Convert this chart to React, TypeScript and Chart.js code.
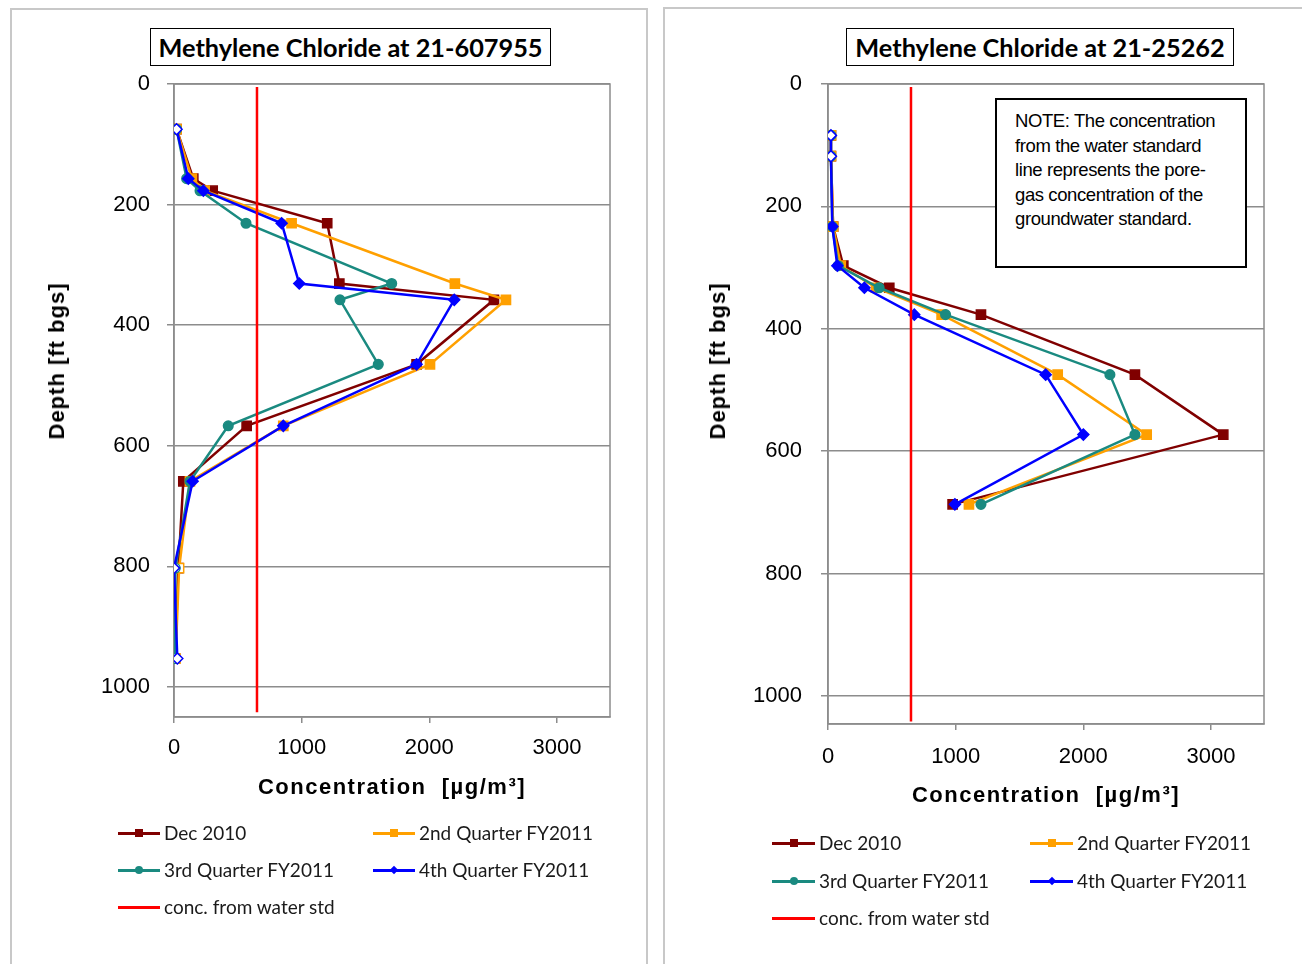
import React, { useEffect, useRef } from "react";
import { Chart, registerables } from "chart.js";
Chart.register(...registerables);

// ---------- DATA ----------
// Left panel: Methylene Chloride at 21-607955
const leftDepths = [75, 157, 177, 231, 331, 358, 465, 567, 659, 803, 953];
const leftDec2010 = [20, 151, 303, 1200, 1295, 2506, 1900, 569, 73, 34, 8];
const leftQ2FY2011 = [20, 140, 240, 921, 2200, 2600, 2005, 856, 125, 40, 12];
const leftQ3FY2011 = [20, 99, 204, 564, 1705, 1300, 1600, 425, 125, 10, 10];
const leftQ4FY2011 = [20, 112, 230, 843, 981, 2195, 1900, 856, 146, 0, 26];
const leftNonDetect = [0, 9, 10];

// Right panel: Methylene Chloride at 21-25262
const rightDepths = [84, 118, 233, 297, 333, 377, 475, 573, 687];
const rightDec2010 = [23, 23, 40, 120, 480, 1198, 2404, 3096, 976];
const rightQ2FY2011 = [23, 23, 40, 100, 376, 890, 1799, 2496, 1104];
const rightQ3FY2011 = [23, 23, 34, 80, 400, 921, 2208, 2404, 1198];
const rightQ4FY2011 = [23, 23, 34, 73, 285, 676, 1705, 2000, 994];
const rightNonDetect = [0, 1];

// conc. from water std
const waterStdConc = 650;
const waterStdDepths = [5, 1042];

const xTickValues = [0, 1000, 2000, 3000];
const yTickValues = [0, 200, 400, 600, 800, 1000];
const seriesLabels = [
  "Dec 2010",
  "2nd Quarter FY2011",
  "3rd Quarter FY2011",
  "4th Quarter FY2011",
  "conc. from water std",
];

const leftTitle = "Methylene Chloride at 21-607955";
const rightTitle = "Methylene Chloride at 21-25262";
const noteLines = [
  "NOTE: The concentration",
  "from the water standard",
  "line represents the pore-",
  "gas concentration of the",
  "groundwater standard.",
];

// ---------- STYLE ----------
const COLORS = ["#800000", "#FFA000", "#1A8A80", "#0000FF", "#FF0000"];
const STYLES = ["rect", "rect", "circle", "rectRot", false];
const RADII = [6.5, 6.5, 4.8, 5.5, 0];
const ORDERS = [4, 3, 2, 1, 0];

const framePlugin = {
  id: "frame",
  beforeDatasetsDraw(chart: any) {
    const { ctx, chartArea } = chart;
    const { left, top, right, bottom } = chartArea;
    ctx.save();
    ctx.strokeStyle = "#8c8c8c";
    ctx.lineWidth = 1.5;
    ctx.strokeRect(left, top, right - left, bottom - top);
    ctx.restore();
  },
};

type ChartProps = {
  left: number;
  width: number;
  height: number;
  depths: number[];
  series: number[][];
  nonDetect: number[];
  xMax: number;
  yMax: number;
  padRight: number;
  padTop: number;
  yAxisWidth: number;
  xAxisHeight: number;
  yLabelPad: number;
  xLabelPad: number;
};

function ProfileChart(p: ChartProps) {
  const ref = useRef<HTMLCanvasElement | null>(null);
  useEffect(() => {
    if (!ref.current) return;
    const datasets: any[] = p.series.map((vals, si) => ({
      label: seriesLabels[si],
      data: vals.map((v, i) => ({ x: v, y: p.depths[i] })),
      borderColor: COLORS[si],
      backgroundColor: COLORS[si],
      pointBackgroundColor: vals.map((_, i) =>
        p.nonDetect.includes(i) ? "#ffffff" : COLORS[si]
      ),
      pointBorderColor: COLORS[si],
      pointBorderWidth: 1.5,
      pointStyle: STYLES[si],
      pointRadius: RADII[si],
      borderWidth: 2.5,
      showLine: true,
      tension: 0,
      order: ORDERS[si],
    }));
    datasets.push({
      label: seriesLabels[4],
      data: waterStdDepths.map((d) => ({ x: waterStdConc, y: d })),
      borderColor: COLORS[4],
      backgroundColor: COLORS[4],
      pointRadius: 0,
      borderWidth: 2.5,
      showLine: true,
      order: ORDERS[4],
    });
    const chart = new Chart(ref.current, {
      type: "scatter",
      data: { datasets },
      plugins: [framePlugin],
      options: {
        animation: false,
        responsive: false,
        devicePixelRatio: 1,
        layout: { padding: { left: 0, right: p.padRight, top: p.padTop, bottom: 0 } },
        plugins: {
          legend: { display: false },
          tooltip: { enabled: false },
          title: { display: false },
        },
        scales: {
          x: {
            type: "linear",
            position: "bottom",
            min: 0,
            max: p.xMax,
            afterBuildTicks: (axis: any) => {
              axis.ticks = xTickValues.map((v) => ({ value: v }));
            },
            afterFit: (axis: any) => {
              axis.height = p.xAxisHeight;
            },
            ticks: {
              color: "#000",
              padding: p.xLabelPad,
              maxRotation: 0,
              callback: (v: any) => String(v),
              font: { family: "'Liberation Sans', Arial, sans-serif", size: 22 },
            },
            grid: {
              drawOnChartArea: false,
              drawTicks: true,
              tickLength: 6,
              color: "#8c8c8c",
              lineWidth: 1.5,
            },
            border: { color: "#8c8c8c", width: 1.5 },
          },
          y: {
            type: "linear",
            reverse: true,
            min: 0,
            max: p.yMax,
            afterBuildTicks: (axis: any) => {
              axis.ticks = yTickValues.map((v) => ({ value: v }));
            },
            afterFit: (axis: any) => {
              axis.width = p.yAxisWidth;
            },
            ticks: {
              color: "#000",
              padding: p.yLabelPad,
              callback: (v: any) => String(v),
              font: { family: "'Liberation Sans', Arial, sans-serif", size: 22 },
            },
            grid: {
              color: "#8c8c8c",
              lineWidth: 1.5,
              tickLength: 7,
            },
            border: { color: "#8c8c8c", width: 1.5 },
          },
        },
      } as any,
    });
    return () => chart.destroy();
  }, []);
  return (
    <canvas
      ref={ref}
      width={p.width}
      height={p.height}
      style={{
        position: "absolute",
        left: p.left,
        top: 0,
        width: p.width,
        height: p.height,
        zIndex: 1,
      }}
    />
  );
}

function Marker({ kind, color }: { kind: string; color: string }) {
  const base: React.CSSProperties = {
    position: "absolute",
    left: "50%",
    top: "50%",
    background: color,
  };
  if (kind === "square")
    return <div style={{ ...base, width: 8, height: 8, transform: "translate(-50%,-50%)" }} />;
  if (kind === "circle")
    return (
      <div
        style={{ ...base, width: 8, height: 8, borderRadius: "50%", transform: "translate(-50%,-50%)" }}
      />
    );
  if (kind === "diamond")
    return (
      <div
        style={{ ...base, width: 6, height: 6, transform: "translate(-50%,-50%) rotate(45deg)" }}
      />
    );
  return null;
}

const MARKERS = ["square", "square", "circle", "diamond", "none"];

function Legend({ cols, rows, lineW }: { cols: number[]; rows: number[]; lineW: number }) {
  const items = seriesLabels.map((lab, i) => ({
    lab,
    i,
    x: cols[i % 2],
    y: rows[Math.floor(i / 2)],
  }));
  return (
    <>
      {items.map((it) => (
        <div key={it.i} style={{ position: "absolute", left: it.x, top: it.y, zIndex: 2 }}>
          <div
            style={{
              position: "absolute",
              left: 0,
              top: -1.5,
              width: lineW,
              height: 3,
              background: COLORS[it.i],
            }}
          >
            <Marker kind={MARKERS[it.i]} color={COLORS[it.i]} />
          </div>
          <div
            style={{
              position: "absolute",
              left: lineW + 4,
              top: -12,
              whiteSpace: "nowrap",
              fontFamily: "Lato, 'Open Sans', sans-serif",
              fontSize: 19,
              lineHeight: "24px",
              color: "#1a1a1a",
            }}
          >
            {it.lab}
          </div>
        </div>
      ))}
    </>
  );
}

function TitleBox({ x, y, w, h, text }: { x: number; y: number; w: number; h: number; text: string }) {
  return (
    <div
      style={{
        position: "absolute",
        left: x,
        top: y,
        width: w,
        height: h,
        boxSizing: "border-box",
        border: "1.5px solid #000",
        background: "#fff",
        display: "flex",
        alignItems: "center",
        justifyContent: "center",
        fontFamily: "Lato, 'Open Sans', sans-serif",
        fontWeight: 700,
        fontSize: 25.3,
        color: "#000",
        whiteSpace: "nowrap",
        zIndex: 2,
      }}
    >
      {text}
    </div>
  );
}

const axisTitleStyle: React.CSSProperties = {
  position: "absolute",
  fontFamily: "'Liberation Sans', Arial, sans-serif",
  fontWeight: 700,
  fontSize: 22,
  color: "#000",
  whiteSpace: "pre",
  zIndex: 2,
};

function XTitle({ cx, cy }: { cx: number; cy: number }) {
  return (
    <div
      style={{
        ...axisTitleStyle,
        left: cx,
        top: cy,
        letterSpacing: 1.5,
        transform: "translate(-50%,-50%)",
      }}
    >
      {"Concentration  [µg/m³]"}
    </div>
  );
}

function YTitle({ cx, cy }: { cx: number; cy: number }) {
  return (
    <div
      style={{
        ...axisTitleStyle,
        left: cx,
        top: cy,
        letterSpacing: 1,
        transform: "translate(-50%,-50%) rotate(-90deg)",
      }}
    >
      {"Depth [ft bgs]"}
    </div>
  );
}

export default function App() {
  return (
    <div
      style={{
        position: "absolute",
        left: 0,
        top: 0,
        width: 1302,
        height: 964,
        overflow: "hidden",
        background: "#fff",
      }}
    >
      {/* panel borders */}
      <div
        style={{
          position: "absolute",
          left: 10,
          top: 8,
          width: 638,
          height: 1000,
          border: "2px solid #c8c8c8",
          boxSizing: "border-box",
        }}
      />
      <div
        style={{
          position: "absolute",
          left: 663,
          top: 7,
          width: 700,
          height: 1000,
          border: "2px solid #c8c8c8",
          boxSizing: "border-box",
        }}
      />

      <ProfileChart
        left={0}
        width={655}
        height={964}
        depths={leftDepths}
        series={[leftDec2010, leftQ2FY2011, leftQ3FY2011, leftQ4FY2011]}
        nonDetect={leftNonDetect}
        xMax={3415}
        yMax={1050}
        padRight={45}
        padTop={84}
        yAxisWidth={174}
        xAxisHeight={247}
        yLabelPad={17}
        xLabelPad={12}
      />
      <ProfileChart
        left={655}
        width={647}
        height={964}
        depths={rightDepths}
        series={[rightDec2010, rightQ2FY2011, rightQ3FY2011, rightQ4FY2011]}
        nonDetect={rightNonDetect}
        xMax={3415}
        yMax={1046}
        padRight={38}
        padTop={84}
        yAxisWidth={173}
        xAxisHeight={240}
        yLabelPad={19}
        xLabelPad={14}
      />

      <TitleBox x={150} y={28} w={401} h={38} text={leftTitle} />
      <TitleBox x={846} y={28} w={388} h={38} text={rightTitle} />

      <YTitle cx={57} cy={361} />
      <YTitle cx={718} cy={361} />
      <XTitle cx={392} cy={787} />
      <XTitle cx={1046} cy={795} />

      <div
        style={{
          position: "absolute",
          left: 995,
          top: 98,
          width: 252,
          height: 170,
          boxSizing: "border-box",
          border: "2px solid #000",
          background: "#fff",
          padding: "9px 0 0 18px",
          fontFamily: "'Liberation Sans Narrow', 'Arial Narrow', sans-serif",
          fontSize: 18.5,
          letterSpacing: -0.4,
          lineHeight: "24.5px",
          color: "#000",
          zIndex: 2,
          whiteSpace: "nowrap",
        }}
      >
        {noteLines.map((l, i) => (
          <div key={i}>{l}</div>
        ))}
      </div>

      <Legend cols={[118, 373]} rows={[833, 870, 907]} lineW={42} />
      <Legend cols={[772, 1030]} rows={[843, 881, 918]} lineW={43} />
    </div>
  );
}
